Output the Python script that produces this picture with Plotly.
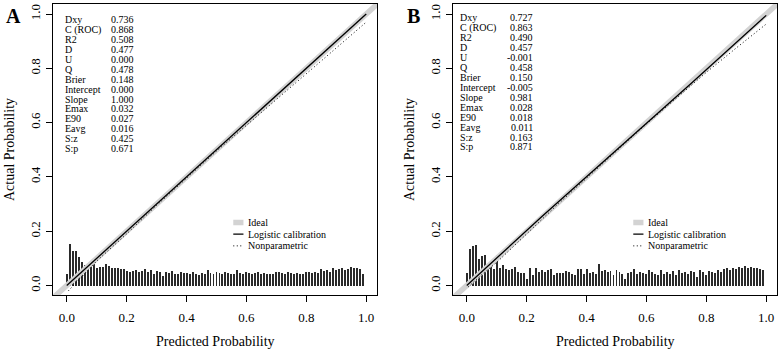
import plotly.graph_objects as go

# ---------------- data ----------------
tick_vals = [0.0, 0.2, 0.4, 0.6, 0.8, 1.0]
tick_text = ["0.0", "0.2", "0.4", "0.6", "0.8", "1.0"]

stat_names = ["Dxy", "C (ROC)", "R2", "D", "U", "Q", "Brier", "Intercept",
              "Slope", "Emax", "E90", "Eavg", "S:z", "S:p"]
stats_a = ["0.736", "0.868", "0.508", "0.477", "0.000", "0.478", "0.148", "0.000",
           "1.000", "0.032", "0.027", "0.016", "0.425", "0.671"]
stats_b = ["0.727", "0.863", "0.490", "0.457", "-0.001", "0.458", "0.150", "-0.005",
           "0.981", "0.028", "0.018", "0.011", "0.163", "0.871"]

legend_names = ["Ideal", "Logistic calibration", "Nonparametric"]

ideal_line = [-0.06, 1.06]

logistic_a_x = [0.0, 0.25, 0.5, 0.75, 1.0]
logistic_a_y = [0.0, 0.25, 0.5, 0.75, 1.0]
logistic_b_x = [0.0, 0.25, 0.5, 0.75, 1.0]
logistic_b_y = [0.0, 0.253, 0.499, 0.745, 0.995]

nonpar_a_x = [0.005, 0.03, 0.06, 0.10, 0.20, 0.30, 0.40, 0.50, 0.60, 0.70, 0.80, 0.90, 1.00]
nonpar_a_y = [-0.02, 0.01, 0.045, 0.09, 0.19, 0.295, 0.395, 0.495, 0.59, 0.685, 0.78, 0.875, 0.97]
nonpar_b_x = [0.005, 0.05, 0.10, 0.20, 0.30, 0.40, 0.50, 0.60, 0.70, 0.80, 0.90, 1.00]
nonpar_b_y = [-0.005, 0.04, 0.085, 0.19, 0.295, 0.395, 0.495, 0.595, 0.69, 0.785, 0.875, 0.963]

spike_bins = [round(i * 0.01, 2) for i in range(100)]
spikes_a = [
    0.045, 0.155, 0.130, 0.128, 0.108, 0.090, 0.077, 0.070, 0.074, 0.080,
    0.068, 0.070, 0.070, 0.082, 0.072, 0.065, 0.066, 0.067, 0.062, 0.063,
    0.055, 0.053, 0.057, 0.058, 0.052, 0.054, 0.064, 0.052, 0.058, 0.043,
    0.056, 0.052, 0.038, 0.050, 0.048, 0.054, 0.046, 0.044, 0.052, 0.047,
    0.048, 0.046, 0.050, 0.045, 0.042, 0.049, 0.046, 0.060, 0.048, 0.044,
    0.052, 0.047, 0.045, 0.050, 0.049, 0.043, 0.046, 0.060, 0.048, 0.046,
    0.052, 0.048, 0.045, 0.047, 0.050, 0.044, 0.048, 0.046, 0.045, 0.043,
    0.050, 0.052, 0.048, 0.045, 0.050, 0.047, 0.044, 0.049, 0.046, 0.045,
    0.052, 0.050, 0.048, 0.052, 0.049, 0.062, 0.055, 0.058, 0.050, 0.066,
    0.058, 0.062, 0.068, 0.060, 0.064, 0.070, 0.066, 0.068, 0.064, 0.046,
]
spikes_b = [
    0.049, 0.138, 0.148, 0.150, 0.100, 0.110, 0.115, 0.062, 0.076, 0.062,
    0.113, 0.068, 0.076, 0.062, 0.058, 0.062, 0.070, 0.053, 0.047, 0.047,
    0.025, 0.068, 0.040, 0.068, 0.052, 0.059, 0.052, 0.059, 0.064, 0.040,
    0.049, 0.047, 0.047, 0.055, 0.052, 0.043, 0.040, 0.064, 0.062, 0.043,
    0.062, 0.048, 0.050, 0.044, 0.080, 0.056, 0.058, 0.052, 0.054, 0.042,
    0.060, 0.050, 0.045, 0.025, 0.048, 0.052, 0.062, 0.046, 0.050, 0.048,
    0.044, 0.060, 0.052, 0.045, 0.040, 0.058, 0.046, 0.050, 0.044, 0.056,
    0.042, 0.058, 0.048, 0.050, 0.044, 0.054, 0.052, 0.035, 0.058, 0.050,
    0.040, 0.056, 0.052, 0.048, 0.058, 0.052, 0.064, 0.066, 0.060, 0.068,
    0.064, 0.070, 0.066, 0.072, 0.066, 0.070, 0.068, 0.066, 0.064, 0.058,
]

# ---------------- styling ----------------
FONT = "Liberation Serif, Times New Roman, serif"
W, H = 780, 350
GREY = "#d3d3d3"
DOT = "1px,2.5px"

x_range = [-0.046, 1.036]
y_range = [-0.035, 1.0387]
ydom = [1 - 295 / H, 1 - 3.5 / H]
xdom_a = [53 / W, 377 / W]
xdom_b = [453 / W, 777 / W]

fig = go.Figure()


def add_panel(xa, ya, logx, logy, npx, npy, spikes):
    fig.add_trace(go.Scatter(x=ideal_line, y=ideal_line, mode="lines",
                             line=dict(color=GREY, width=5.5), xaxis=xa, yaxis=ya,
                             showlegend=False, hoverinfo="skip"))
    fig.add_trace(go.Bar(x=spike_bins, y=spikes, width=0.0033,
                         marker=dict(color="#2a2a2a", line=dict(width=0)),
                         xaxis=xa, yaxis=ya, showlegend=False))
    fig.add_trace(go.Scatter(x=logx, y=logy, mode="lines",
                             line=dict(color="black", width=1.3), xaxis=xa, yaxis=ya,
                             showlegend=False))
    fig.add_trace(go.Scatter(x=npx, y=npy, mode="lines",
                             line=dict(color="black", width=1, dash=DOT),
                             xaxis=xa, yaxis=ya, showlegend=False))


add_panel("x", "y", logistic_a_x, logistic_a_y, nonpar_a_x, nonpar_a_y, spikes_a)
add_panel("x2", "y2", logistic_b_x, logistic_b_y, nonpar_b_x, nonpar_b_y, spikes_b)

axis_common = dict(
    showgrid=False, zeroline=False, showline=True, mirror=True,
    linecolor="black", linewidth=1, ticks="outside", ticklen=6,
    tickcolor="black", tickwidth=1, tickvals=tick_vals, ticktext=tick_text,
    tickfont=dict(family=FONT, size=13, color="black"),
)

fig.update_layout(
    width=W, height=H,
    margin=dict(l=0, r=0, t=0, b=0),
    paper_bgcolor="white", plot_bgcolor="white",
    showlegend=False,
    bargap=0,
    xaxis=dict(domain=xdom_a, range=x_range, anchor="y", ticklabelstandoff=4, **axis_common),
    yaxis=dict(domain=ydom, range=y_range, anchor="x", tickangle=-90, ticklabelstandoff=1, **axis_common),
    xaxis2=dict(domain=xdom_b, range=x_range, anchor="y2", ticklabelstandoff=4, **axis_common),
    yaxis2=dict(domain=ydom, range=y_range, anchor="x2", tickangle=-90, ticklabelstandoff=1, **axis_common),
)

annotations = []
shapes = []


def panel_text(xr, yr, lab_x, val_x, y0, dy, values, xdom_left_px, letter, letter_x_px):
    for i, (n, v) in enumerate(zip(stat_names, values)):
        y = y0 - i * dy
        annotations.append(dict(x=lab_x, y=y, xref=xr, yref=yr, text=n, showarrow=False,
                                xanchor="left", yanchor="middle",
                                font=dict(family=FONT, size=10, color="black")))
        annotations.append(dict(x=val_x, y=y, xref=xr, yref=yr, text=v, showarrow=False,
                                xanchor="right", yanchor="middle",
                                font=dict(family=FONT, size=10, color="black")))
    # legend
    leg_y = [0.232, 0.189, 0.146]
    for name, ly in zip(legend_names, leg_y):
        annotations.append(dict(x=0.598, y=ly, xref=xr, yref=yr, text=name, showarrow=False,
                                xanchor="left", yanchor="middle",
                                font=dict(family=FONT, size=10, color="black")))
    shapes.append(dict(type="line", xref=xr, yref=yr, x0=0.556, x1=0.59, y0=leg_y[0], y1=leg_y[0],
                       line=dict(color=GREY, width=5.5)))
    shapes.append(dict(type="line", xref=xr, yref=yr, x0=0.556, x1=0.59, y0=leg_y[1], y1=leg_y[1],
                       line=dict(color="black", width=1.3)))
    shapes.append(dict(type="line", xref=xr, yref=yr, x0=0.556, x1=0.59, y0=leg_y[2], y1=leg_y[2],
                       line=dict(color="black", width=1, dash=DOT)))
    # axis titles
    cx = (xdom_left_px + 162) / W
    annotations.append(dict(x=cx, y=1 - 341 / H, xref="paper", yref="paper",
                            text="Predicted Probability", showarrow=False,
                            xanchor="center", yanchor="middle",
                            font=dict(family=FONT, size=14, color="black")))
    annotations.append(dict(x=(xdom_left_px - 44) / W, y=1 - 150 / H, xref="paper", yref="paper",
                            text="Actual Probability", showarrow=False, textangle=-90,
                            xanchor="center", yanchor="middle",
                            font=dict(family=FONT, size=14, color="black")))
    annotations.append(dict(x=letter_x_px / W, y=1 - 16 / H, xref="paper", yref="paper",
                            text="<b>%s</b>" % letter, showarrow=False,
                            xanchor="left", yanchor="middle",
                            font=dict(family=FONT, size=20, color="black")))


panel_text("x", "y", -0.0127, 0.23, 0.978, 0.0364, stats_a, 53, "A", 4)
panel_text("x2", "y2", -0.029, 0.227, 0.986, 0.0366, stats_b, 453, "B", 405)

fig.update_layout(annotations=annotations, shapes=shapes)

fig.write_html(
    "out.html",
    config={"displayModeBar": False},
    post_script="document.body.style.margin='0';document.body.style.overflow='hidden';",
)
